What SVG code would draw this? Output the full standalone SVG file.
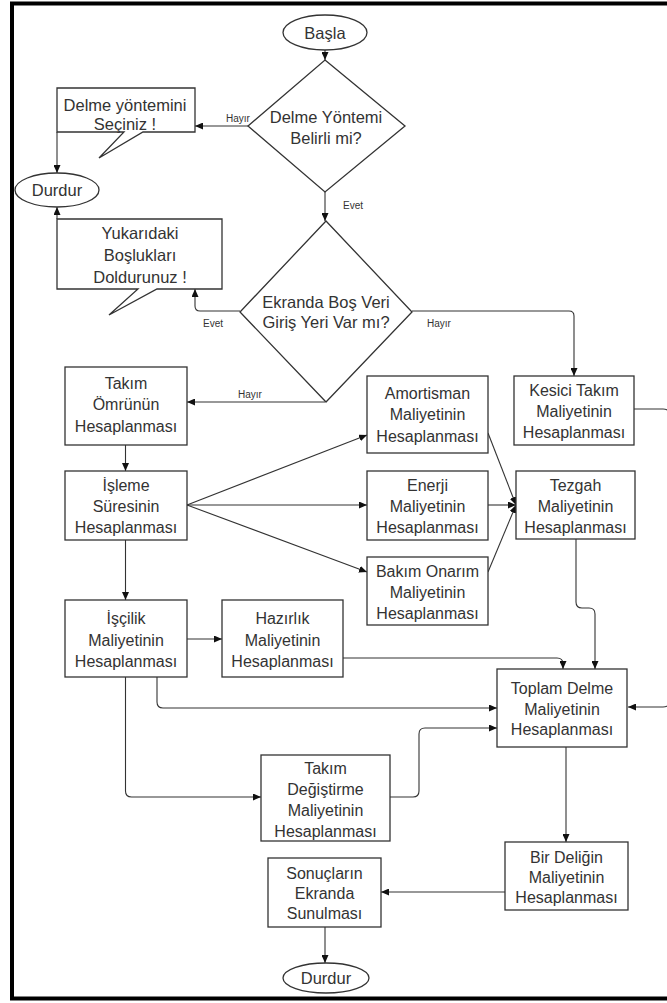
<svg xmlns="http://www.w3.org/2000/svg" width="667" height="1003" viewBox="0 0 667 1003">
<defs>
<marker id="arr" viewBox="0 0 8 7" refX="8" refY="3.5" markerWidth="8" markerHeight="7" markerUnits="userSpaceOnUse" orient="auto">
<path d="M0,0 L8,3.5 L0,7 z" fill="#111"/>
</marker>
<style>
.shape{fill:#fff;stroke:#333;stroke-width:1.3}
.t{font-family:"Liberation Sans",Arial,sans-serif;font-size:16px;fill:#333;text-anchor:middle;dominant-baseline:central}
.tb{font-size:16.5px}
.lbl{font-family:"Liberation Sans",Arial,sans-serif;font-size:10px;fill:#333;text-anchor:middle;dominant-baseline:central}
.c{fill:none;stroke:#333;stroke-width:1.1;marker-end:url(#arr)}
</style>
</defs>
<rect x="0" y="0" width="667" height="1003" fill="#fff"/>
<rect x="12" y="3.5" width="700" height="995" fill="none" stroke="#000" stroke-width="4"/>

<g id="connectors">
<path class="c" d="M325,50 V60"/>
<path class="c" d="M248,126 H195"/>
<path class="c" d="M57,132 V173"/>
<path class="c" d="M325,192 V221"/>
<path class="c" d="M240,311 H200 Q195,311 195,306 V289"/>
<path class="c" d="M57,219 V207"/>
<path class="c" d="M412,311 H569 Q574,311 574,316 V376"/>
<path class="c" d="M325,402 H187"/>
<path class="c" d="M125.5,445 V471"/>
<path class="c" d="M187,505 L367,435"/>
<path class="c" d="M187,505 H367"/>
<path class="c" d="M187,505 L367,572"/>
<path class="c" d="M488,433 L516,505"/>
<path class="c" d="M488,505 H516"/>
<path class="c" d="M488,572 L516,505"/>
<path class="c" d="M634,409 H663 Q670,409 670,416 V700 Q670,707 663,707 H628"/>
<path class="c" d="M576,539 V602 Q576,608 582,608 H589 Q595,608 595,614 V669"/>
<path class="c" d="M125.5,540 V600"/>
<path class="c" d="M187,639 H222"/>
<path class="c" d="M343,658 H557 Q563,658 563,664 V669"/>
<path class="c" d="M157,677 V702 Q157,708 163,708 H497"/>
<path class="c" d="M125.5,677 V791 Q125.5,797 131.5,797 H261"/>
<path class="c" d="M390,797 H413 Q419,797 419,791 V734 Q419,728 425,728 H497"/>
<path class="c" d="M566,747 V842"/>
<path class="c" d="M505,892 H381"/>
<path class="c" d="M325,927 V963"/>
<text class="lbl" x="238" y="118">Hayır</text>
<text class="lbl" x="353" y="205">Evet</text>
<text class="lbl" x="213" y="323">Evet</text>
<text class="lbl" x="439" y="323">Hayır</text>
<text class="lbl" x="250" y="394">Hayır</text>
</g>

<g id="basla">
<ellipse class="shape" cx="325" cy="32.5" rx="42" ry="17.5"/>
<text class="t tb" x="325" y="33">Başla</text>
</g>

<g id="karar1">
<polygon class="shape" points="325,60 405,126 325,192 248,126"/>
<text class="t tb" x="326" y="117">Delme Yöntemi</text>
<text class="t tb" x="326" y="138">Belirli mi?</text>
</g>

<g id="uyari1">
<path class="shape" d="M57,88 H195 V132 H143 L99,158 L124,132 H57 Z"/>
<text class="t tb" x="125" y="105">Delme yöntemini</text>
<text class="t tb" x="125" y="124">Seçiniz !</text>
</g>

<g id="durdur1">
<ellipse class="shape" cx="57" cy="190" rx="42" ry="17"/>
<text class="t tb" x="57" y="190">Durdur</text>
</g>

<g id="karar2">
<polygon class="shape" points="326,221 412,312 326,402 240,312"/>
<text class="t tb" x="326" y="302">Ekranda Boş Veri</text>
<text class="t tb" x="326" y="322">Giriş Yeri Var mı?</text>
</g>

<g id="uyari2">
<path class="shape" d="M57,219 H222 V289 H157 L109,315 L138,289 H57 Z"/>
<text class="t tb" x="140" y="233">Yukarıdaki</text>
<text class="t tb" x="140" y="255">Boşlukları</text>
<text class="t tb" x="140" y="277">Doldurunuz !</text>
</g>

<g id="takim-omru">
<rect class="shape" x="65" y="367" width="122" height="78"/>
<text class="t" x="126" y="383">Takım</text>
<text class="t" x="126" y="404">Ömrünün</text>
<text class="t" x="126" y="426">Hesaplanması</text>
</g>

<g id="isleme">
<rect class="shape" x="65" y="471" width="122" height="69"/>
<text class="t" x="126" y="485">İşleme</text>
<text class="t" x="126" y="506">Süresinin</text>
<text class="t" x="126" y="527">Hesaplanması</text>
</g>

<g id="amortisman">
<rect class="shape" x="367" y="376" width="121" height="77"/>
<text class="t" x="427.5" y="393">Amortisman</text>
<text class="t" x="427.5" y="414">Maliyetinin</text>
<text class="t" x="427.5" y="436">Hesaplanması</text>
</g>

<g id="enerji">
<rect class="shape" x="367" y="471" width="121" height="69"/>
<text class="t" x="427.5" y="485">Enerji</text>
<text class="t" x="427.5" y="506">Maliyetinin</text>
<text class="t" x="427.5" y="527">Hesaplanması</text>
</g>

<g id="bakim">
<rect class="shape" x="367" y="557" width="121" height="68"/>
<text class="t" x="427.5" y="571">Bakım Onarım</text>
<text class="t" x="427.5" y="592">Maliyetinin</text>
<text class="t" x="427.5" y="613">Hesaplanması</text>
</g>

<g id="kesici">
<rect class="shape" x="514" y="376" width="120" height="69"/>
<text class="t" x="574" y="390">Kesici Takım</text>
<text class="t" x="574" y="411">Maliyetinin</text>
<text class="t" x="574" y="432">Hesaplanması</text>
</g>

<g id="tezgah">
<rect class="shape" x="516" y="471" width="119" height="68"/>
<text class="t" x="575.5" y="485">Tezgah</text>
<text class="t" x="575.5" y="506">Maliyetinin</text>
<text class="t" x="575.5" y="527">Hesaplanması</text>
</g>

<g id="iscilik">
<rect class="shape" x="65" y="600" width="122" height="77"/>
<text class="t" x="126" y="618">İşçilik</text>
<text class="t" x="126" y="640">Maliyetinin</text>
<text class="t" x="126" y="661">Hesaplanması</text>
</g>

<g id="hazirlik">
<rect class="shape" x="222" y="600" width="121" height="77"/>
<text class="t" x="282.5" y="618">Hazırlık</text>
<text class="t" x="282.5" y="640">Maliyetinin</text>
<text class="t" x="282.5" y="661">Hesaplanması</text>
</g>

<g id="toplam">
<rect class="shape" x="497" y="669" width="130" height="78"/>
<text class="t" x="562" y="688">Toplam Delme</text>
<text class="t" x="562" y="709">Maliyetinin</text>
<text class="t" x="562" y="729">Hesaplanması</text>
</g>

<g id="takim-degistirme">
<rect class="shape" x="261" y="755" width="129" height="86"/>
<text class="t" x="325.5" y="768">Takım</text>
<text class="t" x="325.5" y="789">Değiştirme</text>
<text class="t" x="325.5" y="810">Maliyetinin</text>
<text class="t" x="325.5" y="831">Hesaplanması</text>
</g>

<g id="bir-delik">
<rect class="shape" x="505" y="842" width="123" height="68"/>
<text class="t" x="566.5" y="857">Bir Deliğin</text>
<text class="t" x="566.5" y="877">Maliyetinin</text>
<text class="t" x="566.5" y="897">Hesaplanması</text>
</g>

<g id="sonuclar">
<rect class="shape" x="268" y="858" width="113" height="69"/>
<text class="t" x="324.5" y="873">Sonuçların</text>
<text class="t" x="324.5" y="893">Ekranda</text>
<text class="t" x="324.5" y="913">Sunulması</text>
</g>

<g id="durdur2">
<ellipse class="shape" cx="326" cy="978" rx="43" ry="15"/>
<text class="t tb" x="326" y="978">Durdur</text>
</g>
</svg>
